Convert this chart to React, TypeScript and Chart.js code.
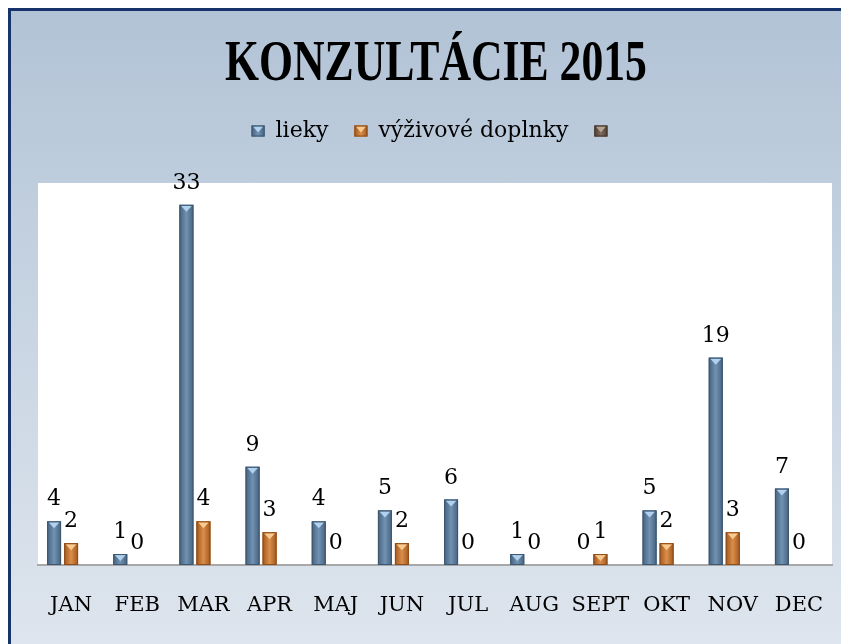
import { useEffect, useRef } from 'react';
import { Chart, registerables } from 'chart.js';

Chart.register(...registerables);

const titleText = 'KONZULTÁCIE 2015';
const months = ['JAN', 'FEB', 'MAR', 'APR', 'MAJ', 'JUN', 'JUL', 'AUG', 'SEPT', 'OKT', 'NOV', 'DEC'];
const seriesNames = ['lieky', 'výživové doplnky', ''];
const lieky = [4, 1, 33, 9, 4, 5, 6, 1, 0, 5, 19, 7];
const doplnky = [2, 0, 4, 3, 0, 2, 0, 0, 1, 2, 3, 0];
const third: (number | null)[] = [null, null, null, null, null, null, null, null, null, null, null, null];
const yMax = 35;

const palettes = [
  { base: '#5d7c9c', edge: '#46627f', mid: '#7192b2', light: '#b0d2ef', outline: '#3d566f' },
  { base: '#c0722f', edge: '#9f581f', mid: '#da8e49', light: '#f8ca90', outline: '#8e4c19' },
  { base: '#6b5a4d', edge: '#4d3f35', mid: '#7e6c5e', light: '#b7a291', outline: '#44372e' },
];

const FONT = '"DejaVu Serif", serif';
const LEGEND_FS = 22;

const legendSpacer = {
  id: 'legendSpacer',
  beforeUpdate(chart: any) {
    const lg = chart.legend;
    if (lg && !lg.__patched) {
      const orig = lg.fit;
      lg.fit = function () {
        orig.call(this);
        this.height += 31;
      };
      lg.__patched = true;
    }
  },
};

const plotBg = {
  id: 'plotBg',
  beforeDraw(chart: any) {
    const { ctx, chartArea: a } = chart;
    ctx.save();
    ctx.fillStyle = '#ffffff';
    ctx.fillRect(a.left, a.top, a.right - a.left, a.bottom - a.top);
    ctx.restore();
  },
};

function bevelRect(ctx: CanvasRenderingContext2D, l: number, t: number, w: number, h: number, pal: any) {
  const g = ctx.createLinearGradient(l, 0, l + w, 0);
  g.addColorStop(0, pal.edge);
  g.addColorStop(0.5, pal.mid);
  g.addColorStop(1, pal.edge);
  ctx.fillStyle = g;
  ctx.fillRect(l, t, w, h);
  const th = Math.min(6, h - 1);
  if (th > 1) {
    ctx.beginPath();
    ctx.moveTo(l + 1.5, t + 1);
    ctx.lineTo(l + w - 1.5, t + 1);
    ctx.lineTo(l + w / 2, t + 1 + th);
    ctx.closePath();
    ctx.fillStyle = pal.light;
    ctx.fill();
  }
  ctx.strokeStyle = pal.outline;
  ctx.lineWidth = 1;
  ctx.strokeRect(l + 0.5, t + 0.5, w - 1, h - 1);
}

const bevel = {
  id: 'bevel',
  afterDatasetsDraw(chart: any) {
    const ctx = chart.ctx as CanvasRenderingContext2D;
    ctx.save();
    [0, 1].forEach((di) => {
      chart.getDatasetMeta(di).data.forEach((el: any) => {
        const { x, y, base, width } = el.getProps(['x', 'y', 'base', 'width'], true);
        const h = base - y;
        if (h < 1) return;
        bevelRect(ctx, x - width / 2, y, width, h, palettes[di]);
      });
    });
    ctx.restore();
  },
  afterDraw(chart: any) {
    const ctx = chart.ctx as CanvasRenderingContext2D;
    ctx.save();
    // data labels
    ctx.font = `22px ${FONT}`;
    ctx.fillStyle = '#000';
    ctx.textAlign = 'center';
    ctx.textBaseline = 'alphabetic';
    [0, 1].forEach((di) => {
      const vals = chart.data.datasets[di].data;
      chart.getDatasetMeta(di).data.forEach((el: any, j: number) => {
        const { x, y } = el.getProps(['x', 'y'], true);
        ctx.fillText(String(vals[j]), x, y - 16);
      });
    });
    // legend boxes with bevel
    const lg = chart.legend;
    if (lg && lg.legendHitBoxes) {
      lg.legendHitBoxes.forEach((hb: any, i: number) => {
        const bw = 13, bh = 11;
        const top = hb.top + Math.max((LEGEND_FS - bh) / 2, 0);
        bevelRect(ctx, hb.left, top, bw, bh, palettes[i]);
      });
    }
    ctx.restore();
  },
};

export default function App() {
  const ref = useRef<HTMLCanvasElement>(null);

  useEffect(() => {
    if (!ref.current) return;
    const chart = new Chart(ref.current, {
      type: 'bar',
      data: {
        labels: months,
        datasets: [
          { label: seriesNames[0], data: lieky, backgroundColor: palettes[0].base },
          { label: seriesNames[1], data: doplnky, backgroundColor: palettes[1].base },
          { label: seriesNames[2], data: third, backgroundColor: palettes[2].base },
        ],
      },
      options: {
        responsive: false,
        animation: false,
        datasets: { bar: { categoryPercentage: 0.771, barPercentage: 0.82 } },
        layout: { padding: { top: 94, left: 38, right: 17, bottom: 0 } },
        plugins: {
          legend: {
            position: 'top',
            labels: {
              font: { family: FONT, size: LEGEND_FS },
              color: '#000',
              boxWidth: 13,
              boxHeight: 11,
              padding: 26,
            },
          },
          tooltip: { enabled: false },
        },
        scales: {
          x: {
            grid: { display: false, drawTicks: false },
            border: { display: true, color: '#a8a8a8', width: 2 },
            ticks: { font: { family: FONT, size: 21, lineHeight: 2 }, color: '#000', padding: 20 },
            afterFit(scale: any) {
              scale.height = 79;
            },
          },
          y: { display: false, min: 0, max: yMax },
        },
      },
      plugins: [legendSpacer, plotBg, bevel],
    } as any);
    return () => chart.destroy();
  }, []);

  return (
    <div style={{ position: 'relative', width: 841, height: 636, overflow: 'hidden' }}>
      <div
        style={{
          position: 'absolute',
          left: 0,
          top: 0,
          width: 900,
          height: 700,
          boxSizing: 'border-box',
          borderLeft: '3px solid #17336b',
          borderTop: '3px solid #17336b',
          background: 'linear-gradient(to bottom, #b2c3d6 0%, #c6d3e1 40%, #e2e8f0 100%)',
        }}
      />
      <div style={{ position: 'absolute', left: -8, top: -8, width: 849, height: 644 }}>
        <canvas ref={ref} width={849} height={644} style={{ display: 'block' }} />
      </div>
      <div
        style={{
          position: 'absolute',
          left: -8,
          top: 25,
          width: 872,
          textAlign: 'center',
          font: 'bold 56px "Liberation Serif", serif',
          lineHeight: '56px',
          whiteSpace: 'nowrap',
          color: '#000',
          transform: 'scaleX(0.78)',
          transformOrigin: 'center',
        }}
      >
        {titleText}
      </div>
    </div>
  );
}
